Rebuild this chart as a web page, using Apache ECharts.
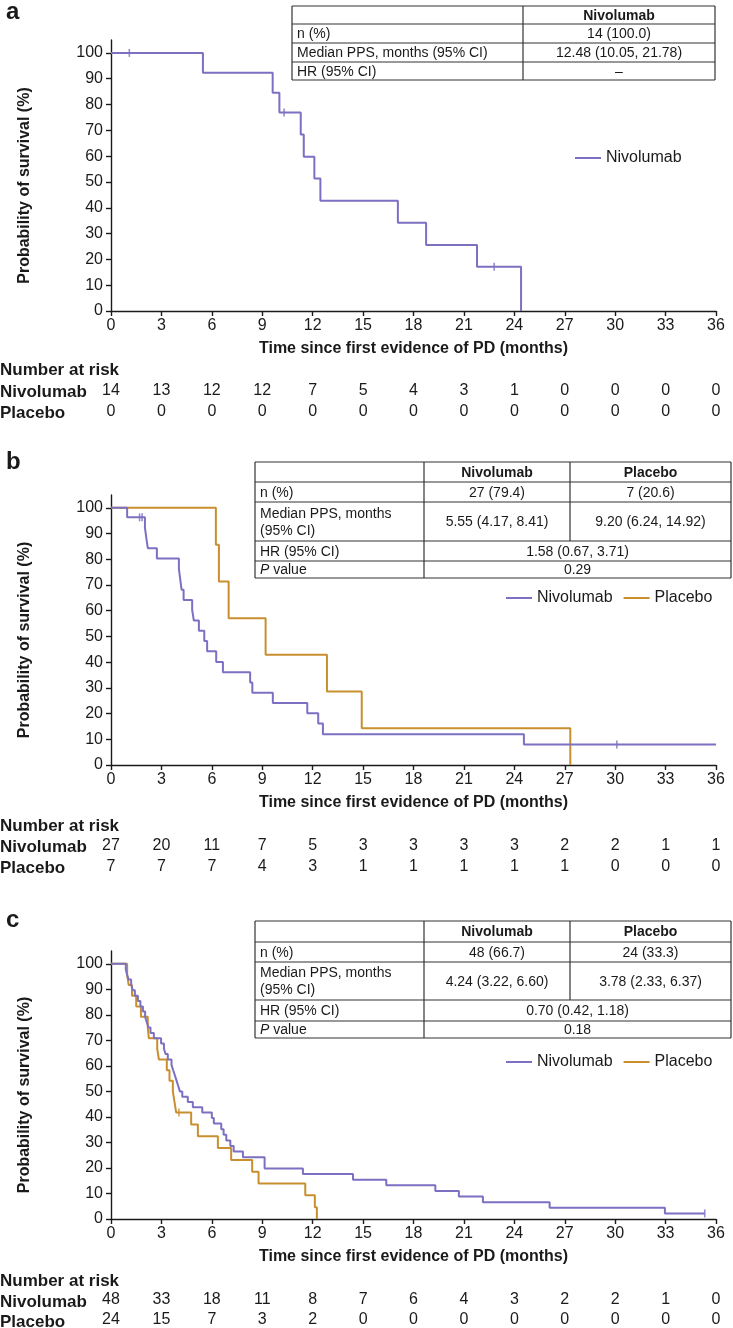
<!DOCTYPE html>
<html>
<head>
<meta charset="utf-8">
<title>Post-progression survival</title>
<script src="https://cdn.jsdelivr.net/npm/echarts@6.0.0/dist/echarts.min.js"></script>
<style>
  html, body { margin: 0; padding: 0; background: #fff; }
  #chart { width: 733px; height: 1328px; }
</style>
</head>
<body>
<div id="chart"></div>
<script>
// ticks
const monthTicks = [0, 3, 6, 9, 12, 15, 18, 21, 24, 27, 30, 33, 36];
const survTicks = [0, 10, 20, 30, 40, 50, 60, 70, 80, 90, 100];

// panel a
const aNivoTime = [0, 5.47, 9.62, 10.02, 11.29, 11.47, 12.1, 12.46, 17.07, 18.75, 21.78, 24.4];
const aNivoSurv = [100, 92.3, 84.6, 76.9, 68.4, 59.8, 51.3, 42.7, 34.2, 25.6, 17.1, 0];
const aNivoCensorTime = [1.09, 10.3, 22.8];
const aNivoCensorSurv = [100, 76.9, 17.1];
const aRiskNivo = [14, 13, 12, 12, 7, 5, 4, 3, 1, 0, 0, 0, 0];
const aRiskPlac = [0, 0, 0, 0, 0, 0, 0, 0, 0, 0, 0, 0, 0];

// panel b
const bNivoTime = [0, 0.96, 2.02, 2.1, 2.19, 2.73, 4.04, 4.12, 4.2, 4.32, 4.83, 4.93, 5.23, 5.55, 5.72, 6.26, 6.66, 8.28, 8.41, 9.63, 11.68, 12.33, 12.61, 24.57, 36];
const bNivoSurv = [100, 96.3, 92.3, 88.3, 84.3, 80.3, 76.3, 72.2, 68.2, 64.2, 60.2, 56.2, 52.2, 48.2, 44.2, 40.1, 36.1, 32.1, 28.1, 24.1, 20.1, 16.1, 12.0, 8.0, 8.0];
const bNivoCensorTime = [1.7, 1.85, 30.1];
const bNivoCensorSurv = [96.3, 96.3, 8.0];
const bPlacTime = [0, 6.24, 6.42, 7.0, 9.2, 12.85, 14.92, 27.33];
const bPlacSurv = [100, 85.7, 71.4, 57.1, 42.9, 28.6, 14.3, 0];
const bRiskNivo = [27, 20, 11, 7, 5, 3, 3, 3, 3, 2, 2, 1, 1];
const bRiskPlac = [7, 7, 7, 4, 3, 1, 1, 1, 1, 1, 0, 0, 0];

// panel c
const cNivoTime = [0, 0.88, 0.95, 1.05, 1.2, 1.3, 1.42, 1.6, 1.75, 1.9, 2.03, 2.13, 2.23, 2.35, 2.55, 2.98,
  3.15, 3.25, 3.38, 3.6, 3.7, 3.8, 3.9, 4.0, 4.1, 4.24, 4.57, 4.87, 5.43, 6.0,
  6.12, 6.56, 6.7, 6.86, 7.1, 7.3, 7.85, 9.14, 11.42, 14.4, 16.38, 19.3, 20.7, 22.13, 26.1, 32.96, 35.33];
const cNivoSurv = [100, 97.9, 95.8, 93.8, 91.7, 89.6, 87.5, 85.4, 83.3, 81.3, 79.2, 77.1, 75.0, 72.9, 70.8, 68.8,
  66.7, 64.6, 62.5, 60.4, 58.3, 56.3, 54.2, 52.1, 50.0, 47.9, 45.8, 43.8, 41.7, 39.6,
  37.4, 35.2, 33.0, 30.8, 28.6, 26.4, 24.2, 19.8, 17.6, 15.4, 13.2, 11.0, 8.8, 6.6, 4.4, 2.2, 2.2];
const cNivoCensorTime = [35.33];
const cNivoCensorSurv = [2.2];
const cPlacTime = [0, 0.96, 1.05, 1.25, 1.5, 1.78, 2.19, 2.25, 2.75, 2.85, 3.32, 3.48, 3.68, 3.78, 3.88,
  4.77, 5.17, 6.36, 7.15, 8.4, 8.78, 11.56, 12.13, 12.25];
const cPlacSurv = [100, 95.8, 91.7, 87.5, 83.3, 79.2, 75.0, 70.8, 66.7, 62.5, 58.3, 54.2, 50.0, 45.8, 41.7,
  37.0, 32.4, 27.8, 23.1, 18.5, 13.9, 9.3, 4.6, 0];
const cPlacCensorTime = [4.04];
const cPlacCensorSurv = [41.7];
const cRiskNivo = [48, 33, 18, 11, 8, 7, 6, 4, 3, 2, 2, 1, 0];
const cRiskPlac = [24, 15, 7, 3, 2, 0, 0, 0, 0, 0, 0, 0, 0];

const NIVO = '#7b70c2';
const PLAC = '#c98f2f';
const INK = '#1a1a1a';
const FONT = '"Liberation Sans", Arial, sans-serif';

const pairs = (t, s) => t.map((x, i) => [x, s[i]]);

const panels = [
  { top: 40, height: 271, riskNivo: aRiskNivo, riskPlac: aRiskPlac, nar: 370, rows: [392, 413] },
  { top: 495, height: 270, riskNivo: bRiskNivo, riskPlac: bRiskPlac, nar: 826, rows: [847, 868] },
  { top: 951, height: 269, riskNivo: cRiskNivo, riskPlac: cRiskPlac, nar: 1281, rows: [1302, 1322] }
];

const grid = [];
const xAxis = [];
const yAxis = [];
panels.forEach((p, i) => {
  grid.push({ left: 111, width: 605, top: p.top, height: p.height });
  xAxis.push({
    type: 'value', gridIndex: i, min: 0, max: 36, interval: 3,
    name: 'Time since first evidence of PD (months)',
    nameLocation: 'middle', nameGap: 30,
    nameTextStyle: { fontFamily: FONT, fontSize: 16, fontWeight: 'bold', color: INK },
    axisLine: { lineStyle: { color: INK, width: 1.4 } },
    axisTick: { length: 5, lineStyle: { color: INK, width: 1.4 } },
    axisLabel: { fontFamily: FONT, fontSize: 16, color: INK, margin: 7 },
    splitLine: { show: false }
  });
  // number-at-risk rows ride on hidden axes sharing the month scale
  [p.riskNivo, p.riskPlac].forEach((risk, r) => {
    xAxis.push({
      type: 'value', gridIndex: i, min: 0, max: 36, interval: 3,
      position: 'bottom', offset: p.rows[r] - p.top - p.height - 9,
      axisLine: { show: false }, axisTick: { show: false }, splitLine: { show: false },
      axisLabel: {
        margin: 0, fontFamily: FONT, fontSize: 16, color: INK,
        formatter: v => { const k = monthTicks.indexOf(v); return k < 0 ? '' : String(risk[k]); }
      }
    });
  });
  yAxis.push({
    type: 'value', gridIndex: i, min: 0, max: 105,
    name: 'Probability of survival (%)', nameLocation: 'middle', nameGap: 78, nameRotate: 90,
    nameTextStyle: { fontFamily: FONT, fontSize: 16, fontWeight: 'bold', color: INK, padding: [0, 20, 0, 0] },
    axisLine: { lineStyle: { color: INK, width: 1.4 } },
    axisTick: { length: 5, customValues: survTicks, lineStyle: { color: INK, width: 1.4 } },
    axisLabel: { customValues: survTicks, fontFamily: FONT, fontSize: 16, color: INK, margin: 8 },
    splitLine: { show: false }
  });
});

function stepSeries(name, color, idx, t, s) {
  return {
    name: name, type: 'line', step: 'end', xAxisIndex: idx * 3, yAxisIndex: idx,
    data: pairs(t, s), showSymbol: false, silent: true,
    lineStyle: { color: color, width: 2 }, itemStyle: { color: color }
  };
}
function censorSeries(color, idx, t, s) {
  return {
    name: 'censor', type: 'scatter', xAxisIndex: idx * 3, yAxisIndex: idx,
    data: pairs(t, s), symbol: 'rect', symbolSize: [1.6, 8], silent: true,
    itemStyle: { color: color }
  };
}

const series = [
  stepSeries('Nivolumab', NIVO, 0, aNivoTime, aNivoSurv),
  censorSeries(NIVO, 0, aNivoCensorTime, aNivoCensorSurv),
  stepSeries('Placebo', PLAC, 1, bPlacTime, bPlacSurv),
  stepSeries('Nivolumab', NIVO, 1, bNivoTime, bNivoSurv),
  censorSeries(NIVO, 1, bNivoCensorTime, bNivoCensorSurv),
  stepSeries('Placebo', PLAC, 2, cPlacTime, cPlacSurv),
  censorSeries(PLAC, 2, cPlacCensorTime, cPlacCensorSurv),
  stepSeries('Nivolumab', NIVO, 2, cNivoTime, cNivoSurv),
  censorSeries(NIVO, 2, cNivoCensorTime, cNivoCensorSurv)
];

const legendBase = {
  icon: 'rect', itemWidth: 26, itemHeight: 2, itemGap: 11, padding: 0, selectedMode: false,
  textStyle: { fontFamily: FONT, fontSize: 16, color: INK }
};
const legend = [
  Object.assign({}, legendBase, { data: ['Nivolumab'], left: 575, top: 150 }),
  Object.assign({}, legendBase, { data: ['Nivolumab', 'Placebo'], left: 506, top: 590 }),
  Object.assign({}, legendBase, { data: ['Nivolumab', 'Placebo'], left: 506, top: 1054 })
];

// tables
const tableA = {
  cols: [292, 523, 715], rows: [6, 24, 43, 62, 80], splitUntil: 4,
  cells: [
    [null, 'Nivolumab'],
    ['n (%)', '14 (100.0)'],
    ['Median PPS, months (95% CI)', '12.48 (10.05, 21.78)'],
    ['HR (95% CI)', '–']
  ]
};
const tableB = {
  cols: [255, 424, 570, 731], rows: [462, 482, 502, 541, 561, 578], splitUntil: 3,
  cells: [
    [null, 'Nivolumab', 'Placebo'],
    ['n (%)', '27 (79.4)', '7 (20.6)'],
    ['Median PPS, months\n(95% CI)', '5.55 (4.17, 8.41)', '9.20 (6.24, 14.92)'],
    ['HR (95% CI)', '1.58 (0.67, 3.71)'],
    ['{i|P} value', '0.29']
  ]
};
const tableC = {
  cols: [255, 424, 570, 731], rows: [921, 942, 962, 1000, 1021, 1038], splitUntil: 3,
  cells: [
    [null, 'Nivolumab', 'Placebo'],
    ['n (%)', '48 (66.7)', '24 (33.3)'],
    ['Median PPS, months\n(95% CI)', '4.24 (3.22, 6.60)', '3.78 (2.33, 6.37)'],
    ['HR (95% CI)', '0.70 (0.42, 1.18)'],
    ['{i|P} value', '0.18']
  ]
};

function tableGraphics(tb) {
  const out = [];
  const c = tb.cols, r = tb.rows;
  const x0 = c[0], x1 = c[c.length - 1];
  const line = (a, b, d, e) => ({
    type: 'line', shape: { x1: a, y1: b, x2: d, y2: e },
    style: { stroke: '#333', lineWidth: 1.2 }
  });
  r.forEach(y => out.push(line(x0, y, x1, y)));
  out.push(line(x0, r[0], x0, r[r.length - 1]));
  out.push(line(x1, r[0], x1, r[r.length - 1]));
  out.push(line(c[1], r[0], c[1], r[r.length - 1]));
  if (c.length > 3) out.push(line(c[2], r[0], c[2], r[tb.splitUntil]));
  tb.cells.forEach((row, ri) => {
    const yc = (r[ri] + r[ri + 1]) / 2;
    row.forEach((txt, ci) => {
      if (txt == null) return;
      const isLabel = ci === 0;
      const merged = !isLabel && row.length === 2 && c.length > 3;
      const cx = isLabel ? x0 + 5 : (merged ? (c[1] + x1) / 2 : (c[ci] + c[ci + 1]) / 2);
      out.push({
        type: 'text', x: cx, y: yc + 1,
        style: {
          text: txt, x: 0, y: 0, align: isLabel ? 'left' : 'center', verticalAlign: 'middle',
          fontFamily: FONT, fontSize: 14, lineHeight: 17, fill: INK,
          fontWeight: ri === 0 ? 'bold' : 'normal',
          rich: { i: { fontStyle: 'italic', fontFamily: FONT, fontSize: 14 } }
        }
      });
    });
  });
  return out;
}

const graphic = [];
[['a', 12], ['b', 462], ['c', 920]].forEach(([t, y]) => {
  graphic.push({ type: 'text', x: 6, y: y, style: { text: t, fontFamily: FONT, fontSize: 24, fontWeight: 'bold', fill: INK, verticalAlign: 'middle' } });
});
panels.forEach(p => {
  const lab = (t, y) => ({ type: 'text', x: 0, y: y, style: { text: t, fontFamily: FONT, fontSize: 17, fontWeight: 'bold', fill: INK, verticalAlign: 'middle' } });
  graphic.push(lab('Number at risk', p.nar));
  graphic.push(lab('Nivolumab', p.rows[0]));
  graphic.push(lab('Placebo', p.rows[1]));
});
[tableA, tableB, tableC].forEach(tb => tableGraphics(tb).forEach(g => graphic.push(g)));

const chart = echarts.init(document.getElementById('chart'), null, { renderer: 'canvas' });
chart.setOption({
  animation: false,
  backgroundColor: '#fff',
  grid: grid,
  xAxis: xAxis,
  yAxis: yAxis,
  legend: legend,
  series: series,
  graphic: graphic
});
</script>
</body>
</html>
